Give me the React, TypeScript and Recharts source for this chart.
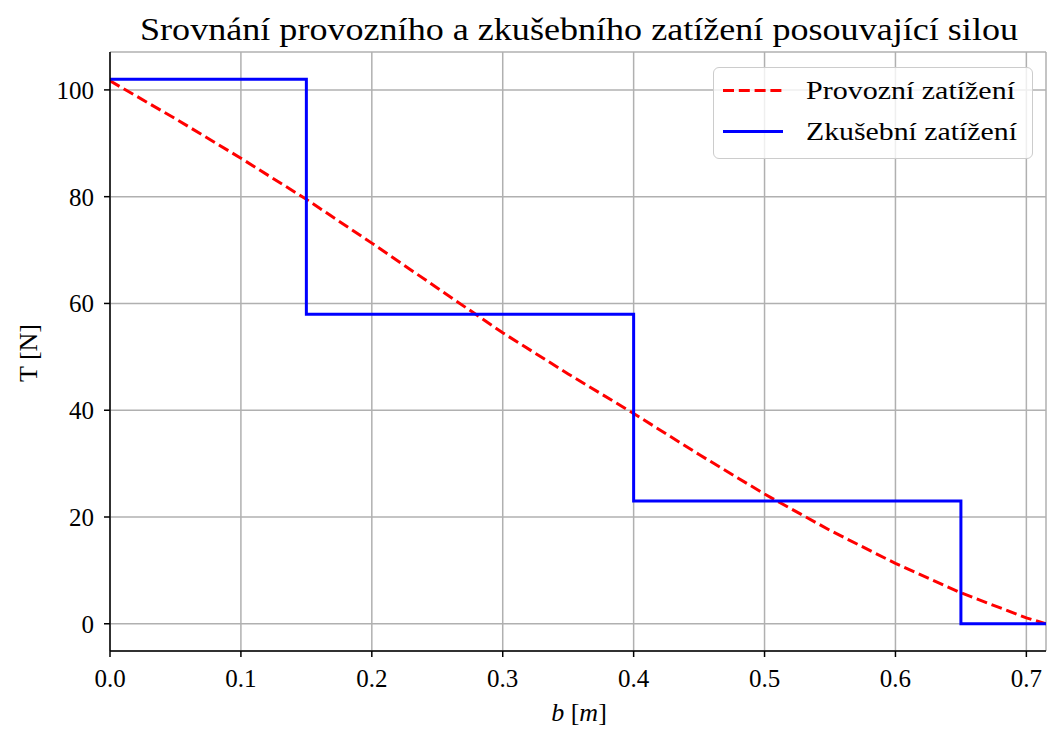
import React from "react";
import { LineChart, Line, XAxis, YAxis, CartesianGrid } from "recharts";

const provozX = [0, 0.05, 0.1, 0.15, 0.2, 0.25, 0.3, 0.35, 0.4, 0.45, 0.5, 0.55, 0.6, 0.65, 0.7, 0.715];
const provozT = [101.7, 94.6, 87.2, 79.5, 71.3, 62.9, 54.5, 46.8, 39.4, 31.7, 24.3, 17.5, 11.3, 5.8, 1.1, 0];

const zkusX = [0, 0.15, 0.4, 0.65, 0.715];
const zkusT = [102, 58, 23, 0, 0];

const xTicks = [0, 0.1, 0.2, 0.3, 0.4, 0.5, 0.6, 0.7];
const yTicks = [0, 20, 40, 60, 80, 100];

const title = "Srovnání provozního a zkušebního zatížení posouvající silou";
const seriesNames = ["Provozní zatížení", "Zkušební zatížení"];

const provozData = provozX.map((x, i) => ({ x, y: provozT[i] }));
const zkusData = zkusX.map((x, i) => ({ x, y: zkusT[i] }));

const FONT = "'Liberation Serif', serif";
const W = 1048;
const H = 733;

export default function App() {
  const tickStyle = { fontFamily: FONT, fontSize: 25, fill: "#000" };
  return (
    <div style={{ position: "absolute", left: 0, top: 0, width: W, height: H, background: "#fff", fontFamily: FONT }}>
      <LineChart
        width={W}
        height={H}
        margin={{ top: 52, right: 2, left: 0, bottom: 0 }}
        style={{ fontFamily: FONT }}
      >
        <CartesianGrid stroke="#b0b0b0" strokeWidth={1.5} />
        <XAxis
          dataKey="x"
          type="number"
          domain={[0, 0.715]}
          ticks={xTicks}
          allowDataOverflow
          tickFormatter={(v: number) => v.toFixed(1)}
          height={82}
          tick={tickStyle}
          tickSize={6}
          tickMargin={12}
          axisLine={{ stroke: "#000", strokeWidth: 1.5 }}
          tickLine={{ stroke: "#000", strokeWidth: 1.5 }}
        />
        <XAxis
          xAxisId="top"
          orientation="top"
          dataKey="x"
          type="number"
          domain={[0, 0.715]}
          height={0}
          tick={false}
          tickLine={false}
          axisLine={{ stroke: "#000", strokeWidth: 1.5 }}
        />
        <YAxis
          type="number"
          domain={[-5.1, 107.1]}
          ticks={yTicks}
          allowDataOverflow
          width={110}
          tick={tickStyle}
          tickSize={6}
          tickMargin={10}
          axisLine={{ stroke: "#000", strokeWidth: 1.5 }}
          tickLine={{ stroke: "#000", strokeWidth: 1.5 }}
        />
        <YAxis
          yAxisId="right"
          orientation="right"
          type="number"
          domain={[-5.1, 107.1]}
          width={0}
          tick={false}
          tickLine={false}
          axisLine={{ stroke: "#000", strokeWidth: 1.5 }}
        />
        <Line
          data={provozData}
          dataKey="y"
          name={seriesNames[0]}
          type="linear"
          stroke="#ff0000"
          strokeWidth={3}
          strokeDasharray="11 4.8"
          dot={false}
          activeDot={false}
          isAnimationActive={false}
        />
        <Line
          data={zkusData}
          dataKey="y"
          name={seriesNames[1]}
          type="stepAfter"
          stroke="#0000ff"
          strokeWidth={3}
          dot={false}
          activeDot={false}
          isAnimationActive={false}
        />
      </LineChart>

      <div
        style={{
          position: "absolute",
          left: 713,
          top: 67,
          width: 320,
          height: 92,
          boxSizing: "border-box",
          border: "1.5px solid #cccccc",
          borderRadius: 6,
          background: "rgba(255,255,255,0.8)",
        }}
      />

      <svg
        width={W}
        height={H}
        style={{ position: "absolute", left: 0, top: 0, pointerEvents: "none" }}
        fontFamily={FONT}
      >
        <text x={579} y={40} fontSize={31} textAnchor="middle" textLength={878} lengthAdjust="spacingAndGlyphs" fill="#000">
          {title}
        </text>
        <text x={579} y={721} fontSize={26} textAnchor="middle" fill="#000">
          <tspan fontStyle="italic">b</tspan>
          <tspan> [</tspan>
          <tspan fontStyle="italic">m</tspan>
          <tspan>]</tspan>
        </text>
        <text
          x={0}
          y={0}
          fontSize={26}
          textAnchor="middle"
          fill="#000"
          transform="translate(37,353) rotate(-90)"
        >
          T [N]
        </text>
        <line x1={723} x2={783} y1={90.5} y2={90.5} stroke="#ff0000" strokeWidth={3} strokeDasharray="11 4.8" />
        <line x1={723} x2={783} y1={131.5} y2={131.5} stroke="#0000ff" strokeWidth={3} />
        <text x={806} y={99} fontSize={26} textLength={209} lengthAdjust="spacingAndGlyphs" fill="#000">
          {seriesNames[0]}
        </text>
        <text x={806} y={140} fontSize={26} textLength={211} lengthAdjust="spacingAndGlyphs" fill="#000">
          {seriesNames[1]}
        </text>
      </svg>
    </div>
  );
}
